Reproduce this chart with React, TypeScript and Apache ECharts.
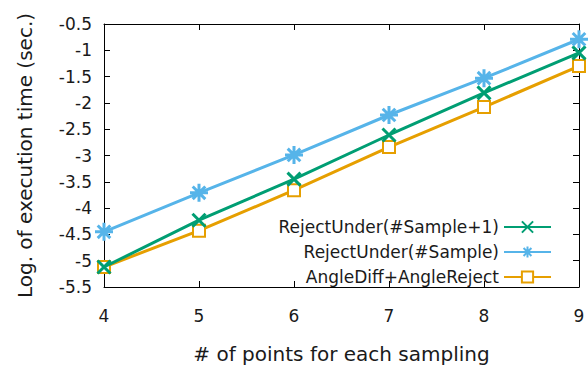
import React, { useEffect, useRef } from "react";
import * as echarts from "echarts";

const xValues = [4, 5, 6, 7, 8, 9];
const seriesNames = ["RejectUnder(#Sample+1)", "RejectUnder(#Sample)", "AngleDiff+AngleReject"];
const rejectUnderPlus1 = [-5.12, -4.23, -3.45, -2.61, -1.81, -1.05];
const rejectUnder = [-4.45, -3.71, -2.99, -2.23, -1.53, -0.79];
const angleDiff = [-5.12, -4.43, -3.66, -2.84, -2.08, -1.3];
const yTickMin = -5.5;
const yTickMax = -0.5;

const FONT = "DejaVu Sans";

export default function App() {
  const ref = useRef<HTMLDivElement>(null);
  useEffect(() => {
    if (!ref.current) return;
    const chart = echarts.init(ref.current, undefined, { renderer: "svg" });
    const toPairs = (arr: number[]) => arr.map((v, i) => [xValues[i], v]);
    const crossPath = "path://M0,0L10,10M10,0L0,10";
    const starPath = "path://M5,0L5,10M0,5L10,5M1.5,1.5L8.5,8.5M8.5,1.5L1.5,8.5";
    const mk = (name: string, data: number[], color: string, symbol: string, size: number, z: number) => ({
      name,
      type: "line",
      data: toPairs(data),
      symbol,
      symbolSize: size,
      showAllSymbol: true,
      z,
      lineStyle: { color, width: 3 },
      itemStyle: { color, borderColor: color, borderWidth: 3 },
      emphasis: { disabled: true },
    });
    const axisCommon = {
      axisLine: { show: true, lineStyle: { color: "#000", width: 1 } },
      axisTick: { show: true, inside: true, length: 6, lineStyle: { color: "#000" } },
      splitLine: { show: false },
    };
    chart.setOption({
      animation: false,
      backgroundColor: "#ffffff",
      grid: { left: 104, right: 9, top: 24, bottom: 85, containLabel: false, outerBoundsMode: "none" },
      legend: {
        data: seriesNames,
        orient: "vertical",
        align: "right",
        right: 31,
        top: 212,
        itemWidth: 47,
        itemHeight: 14,
        itemGap: 5,
        textStyle: { fontFamily: FONT, fontSize: 17, color: "#1a1a1a", lineHeight: 20 },
      },
      xAxis: [
        {
          type: "value",
          min: 4,
          max: 9,
          interval: 1,
          ...axisCommon,
          axisLabel: { fontFamily: FONT, fontSize: 17, color: "#1a1a1a", margin: 20 },
          name: "# of points for each sampling",
          nameLocation: "middle",
          nameGap: 57,
          nameTextStyle: { fontFamily: FONT, fontSize: 20, color: "#1a1a1a" },
        },
        {
          type: "value",
          position: "top",
          min: 4,
          max: 9,
          interval: 1,
          ...axisCommon,
          axisLabel: { show: false },
        },
      ],
      yAxis: [
        {
          type: "value",
          min: yTickMin,
          max: yTickMax,
          interval: 0.5,
          ...axisCommon,
          axisLabel: { fontFamily: FONT, fontSize: 17, color: "#1a1a1a", margin: 12 },
          name: "Log. of execution time (sec.)",
          nameLocation: "middle",
          nameGap: 55,
          nameTextStyle: { fontFamily: FONT, fontSize: 20, color: "#1a1a1a", padding: [0, 0, 14, 0] },
        },
        {
          type: "value",
          position: "right",
          min: yTickMin,
          max: yTickMax,
          interval: 0.5,
          ...axisCommon,
          axisLabel: { show: false },
        },
      ],
      series: [
        mk(seriesNames[0], rejectUnderPlus1, "#009e73", crossPath, 13, 3),
        mk(seriesNames[1], rejectUnder, "#56b4e9", starPath, 18, 4),
        mk(seriesNames[2], angleDiff, "#e69f00", "emptyRect", 12, 2),
      ],
    });
    return () => chart.dispose();
  }, []);
  return (
    <div
      ref={ref}
      style={{ position: "absolute", left: 0, top: 0, width: 588, height: 372 }}
    />
  );
}
